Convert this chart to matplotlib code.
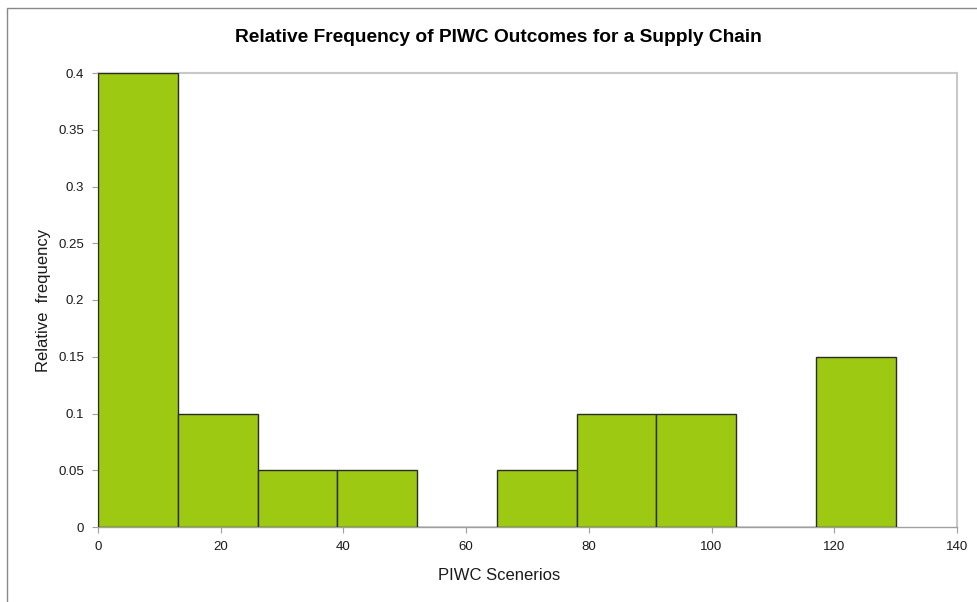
import matplotlib.pyplot as plt
from matplotlib.patches import Rectangle

plt.rcParams['font.family'] = ['Liberation Sans', 'DejaVu Sans']

# Histogram bins (width 13) and their relative frequencies
bin_edges = [0, 13, 26, 39, 52, 65, 78, 91, 104, 117, 130]
rel_freq = [0.4, 0.1, 0.05, 0.05, 0.0, 0.05, 0.1, 0.1, 0.0, 0.15]
x_ticks = [0, 20, 40, 60, 80, 100, 120, 140]
y_ticks = [0, 0.05, 0.1, 0.15, 0.2, 0.25, 0.3, 0.35, 0.4]
y_tick_labels = ['0', '0.05', '0.1', '0.15', '0.2', '0.25', '0.3', '0.35', '0.4']

W, H = 978, 602
fig = plt.figure(figsize=(W / 100, H / 100), dpi=100)
ax = fig.add_axes([98 / W, 1 - 527 / H, (957 - 98) / W, (527 - 73) / H])

lefts = bin_edges[:-1]
widths = [b - a for a, b in zip(bin_edges[:-1], bin_edges[1:])]
ax.bar(lefts, rel_freq, width=widths, align='edge', color='#9dc913',
       edgecolor='#2b2b2b', linewidth=1.0, zorder=3)

ax.set_xlim(0, 140)
ax.set_ylim(0, 0.4)
ax.set_xticks(x_ticks)
ax.set_yticks(y_ticks)
ax.set_yticklabels(y_tick_labels)
ax.tick_params(axis='both', direction='out', length=4, width=0.8,
               color='#a0a0a0', labelsize=9.5, labelcolor='#1a1a1a', pad=6)

for side in ['left', 'bottom']:
    ax.spines[side].set_color('#a0a0a0')
    ax.spines[side].set_linewidth(1.0)
for side in ['top', 'right']:
    ax.spines[side].set_color('#c8c8c8')
    ax.spines[side].set_linewidth(1.5)

fig.text(499.5 / W, 1 - 575 / H, 'PIWC Scenerios', ha='center', va='center',
         fontsize=12, color='#1a1a1a')
fig.text(44 / W, 1 - 300 / H, 'Relative  frequency', ha='center', va='center',
         rotation=90, fontsize=12, color='#1a1a1a')
fig.text(498.5 / W, 1 - 37 / H, 'Relative Frequency of PIWC Outcomes for a Supply Chain',
         ha='center', va='center', fontsize=13.8, fontweight='bold', color='#000000')

# outer chart frame (left and top edges visible)
fig.patches.append(Rectangle((7 / W, -0.05), 1.1, 1 - 8 / H + 0.05,
                             transform=fig.transFigure, fill=False,
                             edgecolor='#888888', linewidth=1.0))

fig.savefig('out.png', dpi=100)
